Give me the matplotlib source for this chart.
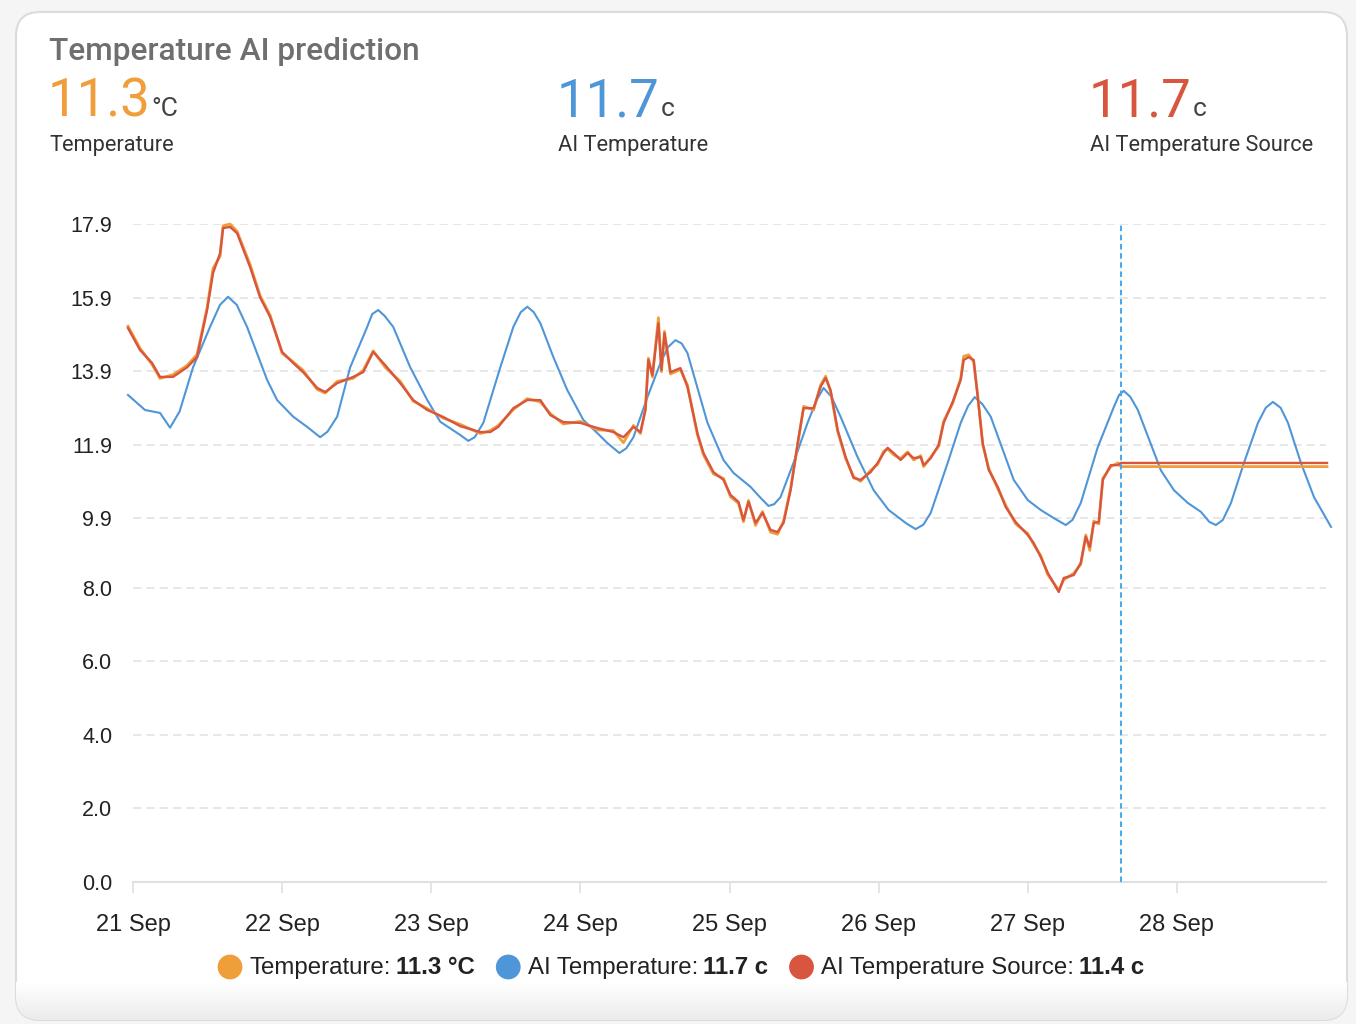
import numpy as np
import matplotlib.pyplot as plt
from matplotlib.patches import FancyBboxPatch, Circle
from matplotlib.colors import LinearSegmentedColormap

plt.rcParams['font.family'] = ['Liberation Sans', 'DejaVu Sans']
plt.rcParams['lines.scale_dashes'] = False

# --- data (hours since 21 Sep 00:00) ---
obs_hours = [
    -0.81, 1.13, 3.06, 4.35, 6.44, 8.70, 10.31, 11.92, 12.89, 14.01,
    14.50, 15.62, 16.75, 18.84, 20.46, 22.07, 24.0, 25.77, 27.38, 29.64,
    30.93, 32.86, 35.44, 37.05, 38.66, 40.59, 43.01, 45.1, 47.36, 49.93,
    52.67, 55.89, 57.5, 58.79, 61.21, 63.46, 65.56, 67.17, 69.26, 72.0,
    74.74, 77.31, 78.93, 80.54, 81.67, 82.47, 82.95, 83.6, 84.56, 85.05,
    85.53, 86.5, 88.1, 89.23, 90.84, 91.81, 93.42, 95.03, 96.16, 97.45,
    98.25, 99.06, 100.19, 101.31, 102.6, 103.73, 104.7, 105.83, 107.12, 107.93,
    109.54, 110.66, 111.47, 112.27, 113.4, 114.69, 115.97, 117.1, 118.71, 119.84,
    120.81, 121.45, 122.42, 123.54, 124.67, 125.64, 126.77, 127.25, 128.38, 129.66,
    130.47, 131.92, 133.21, 133.69, 134.5, 135.3, 135.95, 136.75, 137.72, 139.17,
    140.45, 142.06, 144.0, 144.96, 146.09, 147.22, 148.99, 149.8, 151.41, 152.53,
    153.34, 153.98, 154.63, 155.43, 156.08, 157.37, 158.5, 158.98, 192.16,
]
source_vals = [
    15.07, 14.47, 14.12, 13.74, 13.74, 14.0, 14.28, 15.56, 16.57, 17.1,
    17.79, 17.82, 17.65, 16.73, 15.9, 15.37, 14.42, 14.12, 13.87, 13.44,
    13.33, 13.57, 13.74, 13.87, 14.42, 14.06, 13.57, 13.11, 12.84, 12.65,
    12.4, 12.24, 12.24, 12.38, 12.89, 13.11, 13.11, 12.7, 12.51, 12.49,
    12.35, 12.24, 12.1, 12.38, 12.24, 12.84, 14.2, 13.79, 15.2, 13.93,
    14.93, 13.87, 13.98, 13.47, 12.21, 11.67, 11.15, 10.94, 10.53, 10.34,
    9.85, 10.34, 9.77, 10.04, 9.58, 9.52, 9.77, 10.66, 12.1, 12.89,
    12.89, 13.47, 13.71, 13.38, 12.3, 11.56, 10.99, 10.94, 11.15, 11.4,
    11.67, 11.81, 11.67, 11.48, 11.67, 11.53, 11.56, 11.34, 11.53, 11.89,
    12.49, 13.06, 13.66, 14.2, 14.28, 14.2, 13.19, 11.94, 11.21, 10.75,
    10.2, 9.79, 9.44, 9.22, 8.84, 8.41, 7.89, 8.27, 8.35, 8.68,
    9.39, 9.11, 9.77, 9.79, 10.94, 11.34, 11.34, 11.4, 11.4,
]
temp_vals = [
    15.12, 14.52, 14.08, 13.70, 13.80, 14.05, 14.35, 15.62, 16.70, 17.02,
    17.85, 17.90, 17.70, 16.80, 15.95, 15.42, 14.38, 14.15, 13.92, 13.40,
    13.30, 13.62, 13.70, 13.92, 14.45, 14.00, 13.62, 13.08, 12.88, 12.62,
    12.45, 12.20, 12.28, 12.42, 12.85, 13.15, 13.06, 12.74, 12.46, 12.53,
    12.30, 12.28, 11.95, 12.42, 12.20, 12.88, 14.25, 13.74, 15.35, 13.88,
    14.98, 13.82, 13.94, 13.52, 12.16, 11.62, 11.10, 10.98, 10.48, 10.30,
    9.80, 10.38, 9.70, 10.08, 9.52, 9.46, 9.82, 10.70, 12.05, 12.94,
    12.84, 13.52, 13.76, 13.34, 12.26, 11.52, 11.03, 10.90, 11.20, 11.36,
    11.72, 11.78, 11.62, 11.52, 11.70, 11.48, 11.60, 11.30, 11.56, 11.85,
    12.54, 13.02, 13.70, 14.30, 14.34, 14.15, 13.24, 11.90, 11.25, 10.70,
    10.25, 9.74, 9.48, 9.18, 8.88, 8.36, 7.94, 8.22, 8.40, 8.64,
    9.44, 9.02, 9.82, 9.74, 10.98, 11.30, 11.40, 11.30, 11.30,
]

ai_hours = [
    -0.81, 1.93, 4.35, 5.96, 7.5, 9.66, 12.4, 14.0, 15.3, 16.7,
    18.36, 21.58, 23.19, 25.77, 28.03, 30.12, 31.3, 32.86, 34.95, 37.69,
    38.5, 39.46, 40.5, 41.88, 44.62, 47.36, 49.45, 52.67, 53.96, 55.0,
    56.38, 59.11, 61.21, 62.4, 63.46, 64.5, 65.56, 67.65, 69.9, 72.48,
    74.74, 76.35, 78.28, 79.4, 80.54, 82.79, 84.89, 86.1, 87.3, 88.3,
    89.23, 92.46, 95.03, 96.64, 99.38, 101.0, 102.28, 103.2, 104.21, 106.3,
    108.56, 110.0, 111.14, 112.4, 113.87, 116.61, 119.19, 121.61, 124.5, 125.96,
    127.2, 128.38, 131.11, 133.21, 134.4, 135.46, 136.7, 138.04, 141.74, 144.0,
    146.09, 148.19, 150.12, 151.2, 152.53, 155.27, 157.85, 158.7, 159.46, 160.5,
    161.72, 165.42, 167.52, 169.77, 171.87, 173.2, 174.28, 175.4, 176.7, 178.79,
    181.05, 182.3, 183.46, 184.7, 185.88, 187.97, 190.07, 192.81,
]
ai_vals = [
    13.25, 12.84, 12.76, 12.36, 12.8, 14.0, 15.1, 15.7, 15.92, 15.7,
    15.1, 13.66, 13.11, 12.66, 12.38, 12.1, 12.25, 12.66, 14.0, 15.1,
    15.45, 15.56, 15.4, 15.1, 14.0, 13.11, 12.52, 12.16, 12.0, 12.1,
    12.49, 14.0, 15.1, 15.5, 15.65, 15.5, 15.2, 14.28, 13.38, 12.57,
    12.21, 11.94, 11.67, 11.8, 12.1, 13.19, 14.12, 14.55, 14.74, 14.65,
    14.39, 12.49, 11.48, 11.13, 10.75, 10.45, 10.23, 10.28, 10.47, 11.4,
    12.49, 13.1, 13.44, 13.2, 12.66, 11.56, 10.66, 10.12, 9.75, 9.6,
    9.72, 10.04, 11.4, 12.49, 12.95, 13.19, 13.0, 12.66, 10.94, 10.39,
    10.12, 9.9, 9.71, 9.85, 10.31, 11.83, 12.92, 13.25, 13.36, 13.2,
    12.84, 11.2, 10.66, 10.31, 10.07, 9.8, 9.71, 9.85, 10.31, 11.4,
    12.49, 12.9, 13.06, 12.9, 12.49, 11.4, 10.47, 9.66,
]

now_hour = 158.98
day_hours = [0, 24, 48, 72, 96, 120, 144, 168]
day_labels = ['21 Sep', '22 Sep', '23 Sep', '24 Sep', '25 Sep', '26 Sep', '27 Sep', '28 Sep']
y_ticks = [0.0, 2.0, 4.0, 6.0, 8.0, 9.9, 11.9, 13.9, 15.9, 17.9]

header_names = ['Temperature', 'AI Temperature', 'AI Temperature Source']
header_values = ['11.3', '11.7', '11.7']
header_units = ['°C', 'c', 'c']
legend_names = ['Temperature:', 'AI Temperature:', 'AI Temperature Source:']
legend_values = ['11.3 °C', '11.7 c', '11.4 c']

ORANGE = '#f09e3a'
BLUE = '#4f96d8'
RED = '#d8553f'
colors = [ORANGE, BLUE, RED]

# --- figure / card ---
W, H = 1356, 1024
fig = plt.figure(figsize=(W / 100, H / 100), dpi=100)
fig.patch.set_facecolor('#f5f5f5')

bg = fig.add_axes([0, 0, 1, 1])
bg.axis('off')
card = FancyBboxPatch((16, 12), 1331, 1008, boxstyle='round,pad=0,rounding_size=24',
                      fc='white', ec='#dcdcdc', lw=1.5, zorder=0)
bg.add_patch(card)
shade = LinearSegmentedColormap.from_list('shade', ['#ffffff', '#ebebeb'])
im = bg.imshow(np.linspace(0, 1, 64)[:, None], extent=(16, 1347, 1021, 982),
               cmap=shade, aspect='auto', zorder=0.5)
im.set_clip_path(card)
bg.set_xlim(0, W)
bg.set_ylim(H, 0)

# --- chart ---
ax = fig.add_axes([133 / W, (H - 882) / H, (1326 - 133) / W, (882 - 224) / H])
ax.set_facecolor('none')
ax.plot(ai_hours, ai_vals, color=BLUE, lw=1.5, clip_on=False, zorder=3)
ax.plot(obs_hours, temp_vals, color=ORANGE, lw=2.0, clip_on=False, zorder=4)
ax.plot(obs_hours, source_vals, color=RED, lw=1.7, clip_on=False, zorder=5)
ax.axvline(now_hour, color='#44a8f0', lw=1.4, ls=(0, (4, 2.6)), zorder=6)

ax.set_xlim(0, 192)
ax.set_ylim(0, 17.9)
ax.set_yticks(y_ticks)
ax.set_yticklabels([f'{v:.1f}' for v in y_ticks])
ax.set_xticks(day_hours)
ax.set_xticklabels(day_labels)
ax.yaxis.grid(True, color='#e0e0e0', lw=1.1, ls=(0, (6, 3.6)))
ax.set_axisbelow(True)
for s in ['top', 'right', 'left']:
    ax.spines[s].set_visible(False)
ax.spines['bottom'].set_color('#e0e0e0')
ax.spines['bottom'].set_linewidth(1.5)
ax.tick_params(axis='y', length=0, pad=15, labelsize=15.5, labelcolor='#222222')
ax.tick_params(axis='x', length=8, width=1.1, color='#dddddd', pad=15,
               labelsize=17, labelcolor='#222222')

# --- header ---
r = fig.canvas.get_renderer()


def put(x, y, s, **kw):
    t = bg.text(x, y, s, va='baseline', **kw)
    return x + t.get_window_extent(renderer=r).width


bg.text(49, 59.5, 'Temperature AI prediction', family='Roboto', weight='medium',
        fontsize=22.8, color='#6f6f6f', va='baseline')
for hx, name, val, unit, c in zip([48, 557, 1089], header_names, header_values,
                                  header_units, colors):
    end = put(hx, 116.5, val, family='Roboto', fontsize=38, color=c)
    put(end + 0.5, 116.5, unit, family='Roboto', fontsize=19, color='#444444')
    bg.text(hx + 1, 151.5, name, family='Roboto', fontsize=15.7,
            color='#333333', va='baseline')

# --- legend ---
cx = 230
for name, val, c in zip(legend_names, legend_values, colors):
    bg.add_patch(Circle((cx, 967), 11.7, color=c, zorder=2))
    end = put(cx + 19.3, 974.3, name, fontsize=17.3, color='#222222')
    end = put(end + 5, 974.3, val, fontsize=17.3, weight='bold', color='#222222')
    cx = end + 22 + 11.7

fig.savefig('out.png', dpi=100, facecolor=fig.get_facecolor())
